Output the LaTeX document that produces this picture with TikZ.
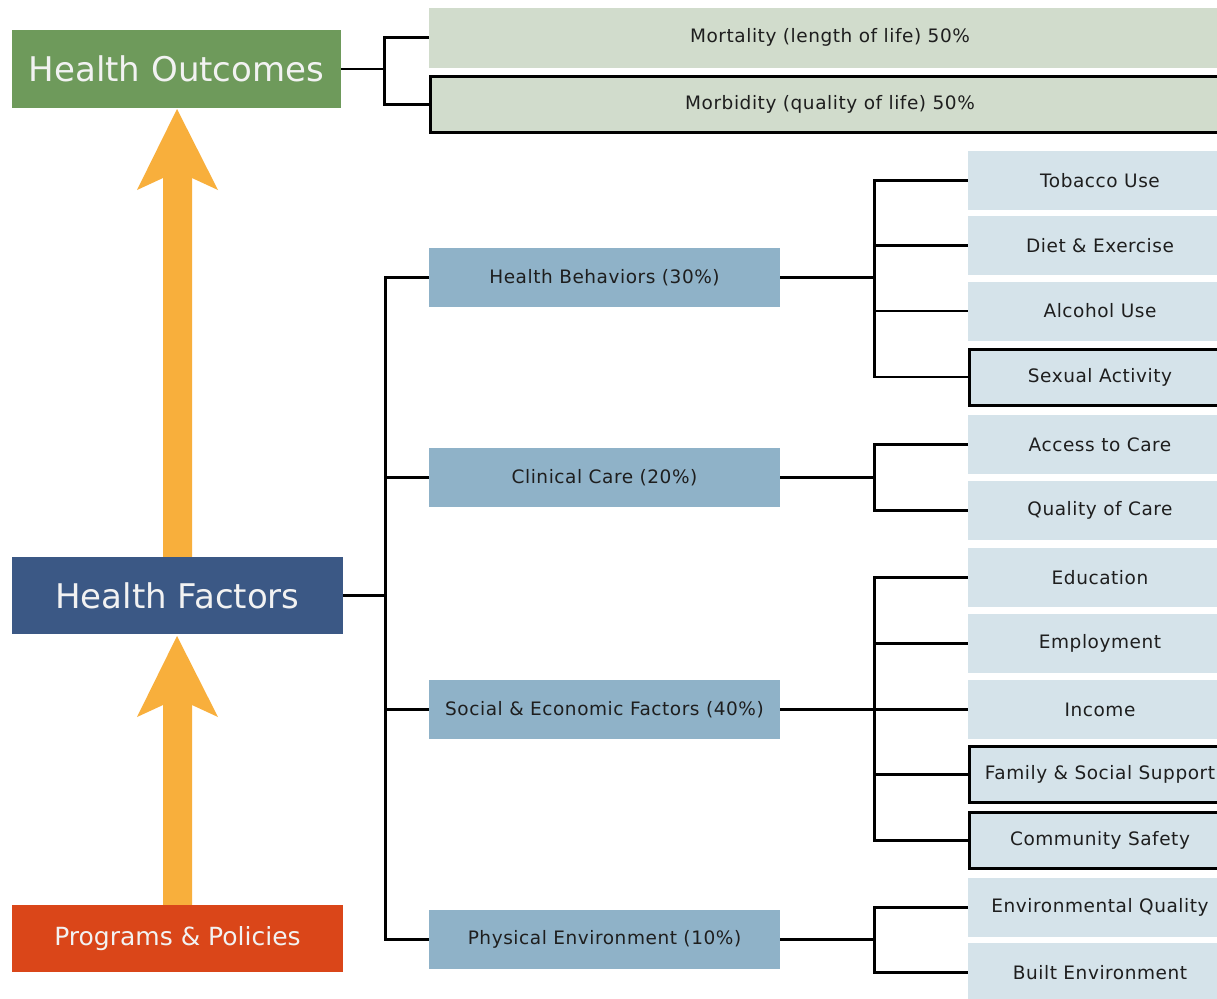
\documentclass[tikz,border=0pt]{standalone}
\usepackage{fontspec}
\setmainfont{DejaVu Sans}
\newfontfamily\smfont[LetterSpace=3]{DejaVu Sans}
\definecolor{hogreen}{HTML}{6E9A5B}
\definecolor{hfblue}{HTML}{3B5885}
\definecolor{pporange}{HTML}{DA4619}
\definecolor{arrowc}{HTML}{F8AF3C}
\definecolor{lgreen}{HTML}{D1DCCC}
\definecolor{midblue}{HTML}{8FB2C8}
\definecolor{lblue}{HTML}{D5E3EA}
\definecolor{txt}{HTML}{1E1E1E}
\begin{document}
\begin{tikzpicture}[x=1pt,y=-1pt,
  bigbox/.style={rectangle, inner sep=0pt, text=white!95!black, font=\fontsize{34}{38}\selectfont},
  smallbox/.style={rectangle, inner sep=0pt, text=txt, font=\smfont\fontsize{18.5}{21}\selectfont},
  midbox/.style={smallbox, fill=midblue, minimum width=351pt, minimum height=59pt},
  leafbox/.style={smallbox, fill=lblue, minimum width=264pt, minimum height=59pt},
  outlined/.style={draw=black, line width=3pt, minimum width=261pt, minimum height=56pt},
  link/.style={line width=2.6pt, black},
  bigarrow/.style={fill=arrowc}]
\useasboundingbox (0,0) rectangle (1217,998);
\fill[white] (0,0) rectangle (1217,998);
% arrows
\fill[bigarrow] (177,109) -- (218,190) -- (192,178) -- (192,560) -- (163,560) -- (163,178) -- (137,190) -- cycle;
\fill[bigarrow] (177,636) -- (218,717) -- (192,705) -- (192,908) -- (163,908) -- (163,705) -- (137,717) -- cycle;
% left boxes
\node[bigbox, fill=hogreen, minimum width=329pt, minimum height=78pt] (ho) at (176.5,69) {Health Outcomes};
\node[bigbox, fill=hfblue, minimum width=331pt, minimum height=77pt] (hf) at (177.5,595.5) {Health Factors};
\node[bigbox, fill=pporange, minimum width=331pt, minimum height=67pt, font=\fontsize{25}{30}\selectfont] (pp) at (177.5,938.5) {Programs \& Policies};
% outcomes
\node[smallbox, fill=lgreen, minimum width=802pt, minimum height=60pt] (mort) at (830,37.7) {Mortality (length of life) 50\%};
\node[smallbox, fill=lgreen, draw=black, line width=3pt, minimum width=799pt, minimum height=56pt] (morb) at (830,104.7) {Morbidity (quality of life) 50\%};
% factors
\node[midbox] (hb) at (604.5,277.5) {Health Behaviors (30\%)};
\node[midbox] (cc) at (604.5,477.5) {Clinical Care (20\%)};
\node[midbox] (se) at (604.5,709.5) {Social \& Economic Factors (40\%)};
\node[midbox] (pe) at (604.5,939.5) {Physical Environment (10\%)};
% leaves
\node[leafbox] (tob) at (1100,180.5) {Tobacco Use};
\node[leafbox] (diet) at (1100,245.5) {Diet \& Exercise};
\node[leafbox] (alc) at (1100,311) {Alcohol Use};
\node[leafbox, outlined] (sex) at (1100,377) {Sexual Activity};
\node[leafbox] (acc) at (1100,444.5) {Access to Care};
\node[leafbox] (qual) at (1100,510.5) {Quality of Care};
\node[leafbox] (edu) at (1100,577.5) {Education};
\node[leafbox] (emp) at (1100,643.5) {Employment};
\node[leafbox] (inc) at (1100,709.5) {Income};
\node[leafbox, outlined] (fam) at (1100,774.3) {Family \& Social Support};
\node[leafbox, outlined] (com) at (1100,840.5) {Community Safety};
\node[leafbox] (envq) at (1100,907.5) {Environmental Quality};
\node[leafbox] (built) at (1100,972.5) {Built Environment};
% connectors
\draw[link] (ho.east) -- ++(43.5,0) |- (mort.west);
\draw[link] (ho.east) -- ++(43.5,0) |- (morb.west);
\foreach \t in {hb,cc,se,pe} \draw[link] (hf.east) -- ++(42,0) |- (\t.west);
\foreach \t in {tob,diet,alc,sex} \draw[link] (hb.east) -- ++(94,0) |- (\t.west);
\foreach \t in {acc,qual} \draw[link] (cc.east) -- ++(94,0) |- (\t.west);
\foreach \t in {edu,emp,inc,fam,com} \draw[link] (se.east) -- ++(94,0) |- (\t.west);
\foreach \t in {envq,built} \draw[link] (pe.east) -- ++(94,0) |- (\t.west);
\end{tikzpicture}
\end{document}
